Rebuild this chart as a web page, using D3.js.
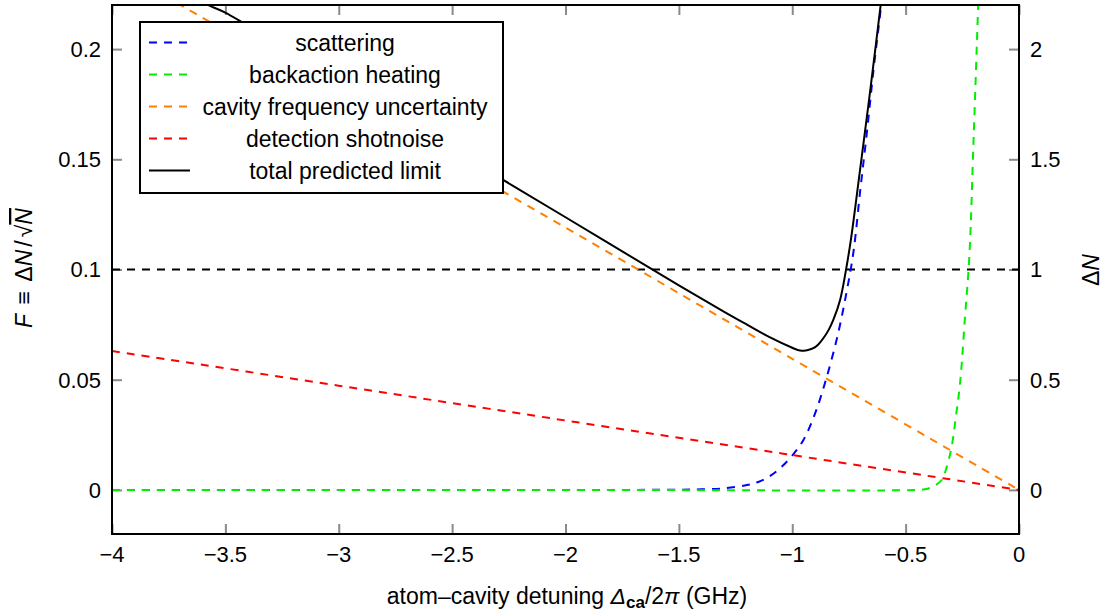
<!DOCTYPE html>
<html>
<head>
<meta charset="utf-8">
<script src="https://cdn.jsdelivr.net/npm/d3@7"></script>
<style>
  html, body { margin: 0; padding: 0; background: #fff; }
  svg { display: block; }
  text { font-family: "Liberation Sans", Arial, sans-serif; fill: #000; }
</style>
</head>
<body>
<svg id="chart" width="1104" height="612"></svg>
<script>
// ---------- data ----------
const xTicks = [-4, -3.5, -3, -2.5, -2, -1.5, -1, -0.5, 0];
const xTickLabels = ["\u22124", "\u22123.5", "\u22123", "\u22122.5", "\u22122", "\u22121.5", "\u22121", "\u22120.5", "0"];
const yTicksLeft = [0, 0.05, 0.1, 0.15, 0.2];
const yTickLabelsLeft = ["0", "0.05", "0.1", "0.15", "0.2"];
const yTicksRight = [0, 0.5, 1, 1.5, 2];
const yTickLabelsRight = ["0", "0.5", "1", "1.5", "2"];

const seriesNames = ["scattering", "backaction heating", "cavity frequency uncertainty", "detection shotnoise", "total predicted limit"];
const seriesColors = ["#0000ff", "#00ee00", "#ff8000", "#ff0000", "#000000"];

const scatteringX = [-4, -2, -1.5, -1.4, -1.3, -1.2, -1.15, -1.1, -1.05, -1.0, -0.95, -0.9, -0.85, -0.8, -0.76, -0.73, -0.7, -0.67, -0.64, -0.61, -0.58];
const scatteringY = [0, 0, 0.0001, 0.0003, 0.0007, 0.0022, 0.0036, 0.0062, 0.0102, 0.0156, 0.0228, 0.0345, 0.0505, 0.0700, 0.0900, 0.1080, 0.1360, 0.1630, 0.1920, 0.2180, 0.2480];

const heatingX = [-4, -2, -0.45, -0.415, -0.38, -0.341, -0.32, -0.297, -0.28, -0.26, -0.238, -0.219, -0.2, -0.18, -0.17];
const heatingY = [0, 0, 0, 0.0003, 0.0015, 0.0045, 0.0100, 0.0196, 0.0320, 0.0484, 0.0786, 0.1060, 0.1600, 0.2200, 0.2500];

const cavityX = [-4, -3, -2, -1, 0];
const cavityY = [0.238, 0.1785, 0.119, 0.0595, 0];

const shotnoiseX = [-4, -3, -2, -1, 0];
const shotnoiseY = [0.063, 0.0473, 0.0315, 0.0158, 0];

const totalX = [-3.7, -3.6, -3.5, -3.0, -2.5, -2.0, -1.5, -1.3, -1.2, -1.1, -1.0, -0.966, -0.935, -0.907, -0.885, -0.863, -0.84, -0.819, -0.789, -0.763, -0.74, -0.70, -0.66, -0.63, -0.61, -0.59];
const totalY = [0.234, 0.2215, 0.2165, 0.1855, 0.1545, 0.1237, 0.0928, 0.0808, 0.0750, 0.0693, 0.0645, 0.0632, 0.0634, 0.0643, 0.0660, 0.0688, 0.0725, 0.0771, 0.0862, 0.0998, 0.1145, 0.1460, 0.1780, 0.2030, 0.2200, 0.2360];

const thresholdF = 0.1;

// ---------- layout ----------
const svg = d3.select("#chart");
const L = 112, R = 1019, T = 5, B = 534;
const x = d3.scaleLinear().domain([-4, 0]).range([L, R]);
const y = d3.scaleLinear().domain([-0.02, 0.22]).range([B, T]);
const y2 = d3.scaleLinear().domain([-0.2, 2.2]).range([B, T]);
const FS = 23, TFS = 22;

svg.append("defs").append("clipPath").attr("id", "clip")
  .append("rect").attr("x", L).attr("y", T).attr("width", R - L).attr("height", B - T);

// ticks (inside, gray) via d3 axes
const tickLen = 10;
function styleAxis(g) {
  g.select(".domain").remove();
  g.selectAll(".tick line").attr("stroke", "#8a8a8a").attr("stroke-width", 2);
  g.selectAll(".tick text").remove();
}
svg.append("g").attr("transform", `translate(0,${B})`)
  .call(d3.axisBottom(x).tickValues(xTicks).tickSize(-tickLen)).call(styleAxis);
svg.append("g").attr("transform", `translate(0,${T})`)
  .call(d3.axisTop(x).tickValues(xTicks).tickSize(-tickLen)).call(styleAxis);
svg.append("g").attr("transform", `translate(${L},0)`)
  .call(d3.axisLeft(y).tickValues(yTicksLeft).tickSize(-tickLen)).call(styleAxis);
svg.append("g").attr("transform", `translate(${R},0)`)
  .call(d3.axisRight(y2).tickValues(yTicksRight).tickSize(-tickLen)).call(styleAxis);

// tick labels
svg.append("g").selectAll("text").data(xTicks).join("text")
  .attr("x", d => x(d)).attr("y", 562).attr("text-anchor", "middle")
  .attr("font-size", TFS).text((d, i) => xTickLabels[i]);
svg.append("g").selectAll("text").data(yTicksLeft).join("text")
  .attr("x", 101).attr("y", d => y(d)).attr("dy", "0.36em").attr("text-anchor", "end")
  .attr("font-size", TFS).text((d, i) => yTickLabelsLeft[i]);
svg.append("g").selectAll("text").data(yTicksRight).join("text")
  .attr("x", 1030).attr("y", d => y2(d)).attr("dy", "0.36em").attr("text-anchor", "start")
  .attr("font-size", TFS).text((d, i) => yTickLabelsRight[i]);

// plot content
const plot = svg.append("g").attr("clip-path", "url(#clip)");
plot.append("line").attr("x1", L).attr("x2", R).attr("y1", y(thresholdF)).attr("y2", y(thresholdF))
  .attr("stroke", "#000").attr("stroke-width", 2).attr("stroke-dasharray", "8,7");

const line = d3.line().x(d => x(d[0])).y(d => y(d[1])).curve(d3.curveCatmullRom.alpha(0.5));
const series = [
  [scatteringX, scatteringY, true],
  [heatingX, heatingY, true],
  [cavityX, cavityY, true],
  [shotnoiseX, shotnoiseY, true],
  [totalX, totalY, false]
];
series.forEach((s, i) => {
  const pts = s[0].map((v, j) => [v, s[1][j]]);
  plot.append("path").attr("d", line(pts)).attr("fill", "none")
    .attr("stroke", seriesColors[i]).attr("stroke-width", 2)
    .attr("stroke-dasharray", s[2] ? "8,7" : null);
});

// frame
svg.append("rect").attr("x", L).attr("y", T).attr("width", R - L).attr("height", B - T)
  .attr("fill", "none").attr("stroke", "#000").attr("stroke-width", 2);

// legend
const lg = svg.append("g");
lg.append("rect").attr("x", 140).attr("y", 22).attr("width", 363).attr("height", 171)
  .attr("fill", "#fff").attr("stroke", "#000").attr("stroke-width", 2);
seriesNames.forEach((n, i) => {
  const yy = 42.5 + i * 32;
  lg.append("line").attr("x1", 149).attr("x2", 190).attr("y1", yy).attr("y2", yy)
    .attr("stroke", seriesColors[i]).attr("stroke-width", 2)
    .attr("stroke-dasharray", i < 4 ? "8,7" : null);
  lg.append("text").attr("x", 345).attr("y", yy).attr("dy", "0.36em")
    .attr("text-anchor", "middle").attr("font-size", FS).text(n);
});

// x axis label
const xl = svg.append("text").attr("x", 567).attr("y", 604).attr("text-anchor", "middle").attr("font-size", FS);
xl.append("tspan").text("atom\u2013cavity detuning ");
xl.append("tspan").attr("font-style", "italic").text("\u0394");
xl.append("tspan").attr("font-size", 17).attr("font-weight", "bold").attr("dy", 4).text("ca");
xl.append("tspan").attr("dy", -4).text("/2");
xl.append("tspan").attr("font-style", "italic").text("\u03c0");
xl.append("tspan").text(" (GHz)");

// left y label
const yl = svg.append("text").attr("transform", "translate(32,268) rotate(-90)")
  .attr("text-anchor", "middle").attr("font-size", FS);
yl.append("tspan").attr("font-style", "italic").text("F");
yl.append("tspan").attr("dx", 3).text(" \u2261 ");
yl.append("tspan").attr("dx", 3).text("\u0394");
yl.append("tspan").attr("font-style", "italic").text("N");
yl.append("tspan").attr("dx", 3).text("/");
yl.append("tspan").attr("dx", 3).text("\u221a");
yl.append("tspan").attr("font-style", "italic").attr("text-decoration", "overline").text("N");

// right y label
const yr = svg.append("text").attr("transform", "translate(1099,270) rotate(-90)")
  .attr("text-anchor", "middle").attr("font-size", FS);
yr.append("tspan").text("\u0394");
yr.append("tspan").attr("font-style", "italic").text("N");
</script>
</body>
</html>
